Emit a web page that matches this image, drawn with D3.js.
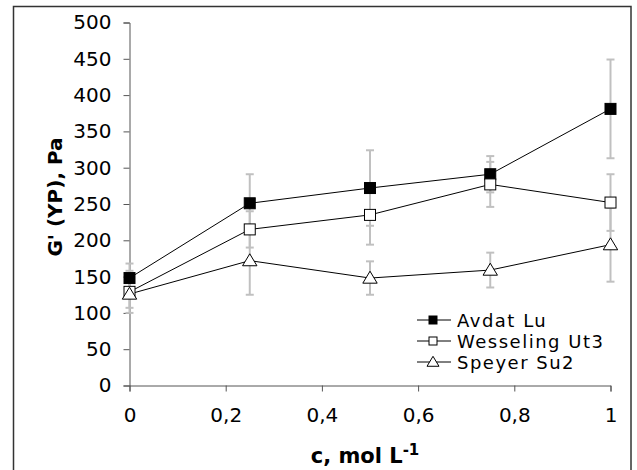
<!DOCTYPE html>
<html>
<head>
<meta charset="utf-8">
<script src="https://cdn.jsdelivr.net/npm/d3@7"></script>
<style>
  body { margin: 0; background: #fff; }
  text { font-family: Verdana, "DejaVu Sans", sans-serif; fill: #000; }
</style>
</head>
<body>
<div id="chart"></div>
<script>
// concentration, mol/L
let cValues = [0, 0.25, 0.5, 0.75, 1]

let seriesNames = ['Avdat Lu', 'Wesseling Ut3', 'Speyer Su2']
let avdatLu = [148, 251, 272, 291, 381]
let avdatErr = [20, 40, 52, 25, 68]
let wesselingUt3 = [129, 215, 235, 277, 252]
let wesselingErr = [29, 25, 41, 31, 39]
let speyerSu2 = [126, 172, 148, 159, 194]
let speyerErr = [19, 47, 23, 24, 51]

let xTicks = [0, 0.2, 0.4, 0.6, 0.8, 1]
let xTickLabels = ['0', '0,2', '0,4', '0,6', '0,8', '1']
let yTicks = [0, 50, 100, 150, 200, 250, 300, 350, 400, 450, 500]

let width = 637,
    height = 470

let svg = d3.select('#chart').append('svg')
    .attr('width', width)
    .attr('height', height)

// outer frame (bottom edge falls outside the picture)
svg.append('rect')
    .attr('x', 13.5).attr('y', 6.5)
    .attr('width', 617.5).attr('height', 480)
    .attr('fill', 'none')
    .attr('stroke', '#333')
    .attr('stroke-width', 1.5)

let x = d3.scaleLinear().domain([0, 1]).range([129.5, 610.5])
let y = d3.scaleLinear().domain([0, 500]).range([385.5, 22.5])

svg.append('g')
    .attr('transform', `translate(0,${y(0)})`)
    .call(d3.axisBottom(x).tickValues(xTicks)
        .tickFormat((d, i) => xTickLabels[i])
        .tickSizeOuter(0).tickSize(6).tickPadding(16))

svg.append('g')
    .attr('transform', `translate(${x(0)},0)`)
    .call(d3.axisLeft(y).tickValues(yTicks)
        .tickSizeOuter(0).tickSize(6).tickPadding(12))

svg.selectAll('.domain, .tick line').attr('stroke', '#555')
svg.selectAll('.tick text')
    .style('font-size', '20px')
    .attr('fill', '#000')

let series = [
  {name: seriesNames[0], values: avdatLu, err: avdatErr, shape: 'square', fill: '#000'},
  {name: seriesNames[1], values: wesselingUt3, err: wesselingErr, shape: 'square', fill: '#fff'},
  {name: seriesNames[2], values: speyerSu2, err: speyerErr, shape: 'triangle', fill: '#fff'}
]

// error bars
let errG = svg.append('g')
series.forEach(s => {
  s.values.forEach((v, i) => {
    let cx = x(cValues[i])
    let lo = y(v - s.err[i]), hi = y(v + s.err[i])
    errG.append('line')
        .attr('x1', cx).attr('x2', cx)
        .attr('y1', lo).attr('y2', hi)
    ;[lo, hi].forEach(yy => {
      errG.append('line')
          .attr('x1', cx - 4).attr('x2', cx + 4)
          .attr('y1', yy).attr('y2', yy)
    })
  })
})
errG.selectAll('line')
    .attr('stroke', '#c0c0c0')
    .attr('stroke-width', 2)

let line = d3.line()
    .x((d, i) => x(cValues[i]))
    .y(d => y(d))

function marker(g, shape, fill, size) {
  if (shape === 'square') {
    g.append('rect')
        .attr('x', -size / 2).attr('y', -size / 2)
        .attr('width', size).attr('height', size)
        .attr('fill', fill).attr('stroke', '#000').attr('stroke-width', 1)
  } else {
    let h = size * 0.95
    g.append('path')
        .attr('d', `M0,${-h * 0.6}L${size * 0.6},${h * 0.45}L${-size * 0.6},${h * 0.45}Z`)
        .attr('fill', fill).attr('stroke', '#000').attr('stroke-width', 1)
  }
}

series.forEach(s => {
  svg.append('path')
      .datum(s.values)
      .attr('d', line)
      .attr('fill', 'none')
      .attr('stroke', '#000')
      .attr('stroke-width', 1)
})

series.forEach(s => {
  s.values.forEach((v, i) => {
    let g = svg.append('g')
        .attr('transform', `translate(${x(cValues[i])},${y(v)})`)
    marker(g, s.shape, s.fill, s.shape === 'square' ? 11 : 12)
  })
})

// legend
let legend = svg.append('g')
series.forEach((s, i) => {
  let ly = 320 + i * 21
  legend.append('line')
      .attr('x1', 417).attr('x2', 451)
      .attr('y1', ly).attr('y2', ly)
      .attr('stroke', '#000')
  let g = legend.append('g').attr('transform', `translate(433,${ly})`)
  marker(g, s.shape, s.fill, s.shape === 'square' ? 8 : 10)
  legend.append('text')
      .attr('x', 457).attr('y', ly + 7)
      .style('font-size', '18px')
      .style('letter-spacing', '1.5px')
      .text(s.name)
})

// axis titles
let xTitle = svg.append('text')
    .attr('x', 365).attr('y', 463)
    .attr('text-anchor', 'middle')
    .style('font-size', '21px')
    .style('font-weight', 'bold')
xTitle.append('tspan').text('c, mol L')
xTitle.append('tspan').attr('dy', -8).style('font-size', '15px').text('-1')

svg.append('text')
    .attr('transform', 'rotate(-90)')
    .attr('x', -197).attr('y', 62)
    .attr('text-anchor', 'middle')
    .style('font-size', '20px')
    .style('font-weight', 'bold')
    .text("G' (YP), Pa")
</script>
</body>
</html>
